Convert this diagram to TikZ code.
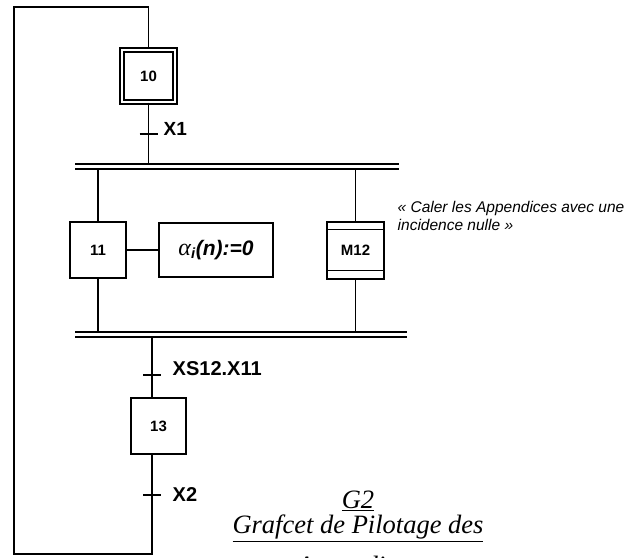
\documentclass[tikz,border=0pt]{standalone}
\usepackage{fontspec}
\setmainfont{Liberation Sans}
\newfontfamily\titlefont{Liberation Serif}
\usetikzlibrary{positioning,calc}

\begin{document}
\begin{tikzpicture}[x=1pt,y=-1pt,line width=1.4pt,
 etape/.style={draw,minimum width=56pt,minimum height=56pt,inner sep=0pt,font=\fontsize{15}{17}\selectfont\bfseries},
 action/.style={draw,minimum width=114pt,minimum height=54pt,inner sep=0pt},
 recep/.style={anchor=base west,inner sep=0pt,font=\fontsize{20}{22}\selectfont\bfseries}]
\useasboundingbox (0,0) rectangle (642,557);
\clip (0,0) rectangle (642,557);
% etapes
\node[etape,double,double distance=2.6pt,minimum width=53pt,minimum height=52pt] (s10) at (148.5,76) {10};
\node[etape] (s11) at (98,250) {11};
\node[action] (a11) at (216,250) {\fontsize{21}{23}\selectfont{\titlefont\itshape\fontsize{24}{26}\selectfont α}\textsubscript{\textbf{\textit{i}}}\textbf{\textit{(n):=0}}};
\node[etape,minimum width=57pt,minimum height=57pt] (m12) at (355.5,250.5) {M12};
\node[etape,minimum width=55pt] (s13) at (158.5,426) {13};
% transitions et barres
\coordinate (t1) at (148.5,134);
\coordinate (t2) at (152,375);
\coordinate (t3) at (152,495);
\coordinate (ret) at (152,554);
\coordinate (boucle) at (14,7);
\coordinate (b1w) at (75,164); \coordinate (b1e) at (399,164);
\coordinate (b1s) at (75,169);
\coordinate (b2w) at (75,332); \coordinate (b2e) at (407,332);
\coordinate (b2s) at (75,337);
\draw (b1w) -- (b1e); \draw (b1s) -- ([yshift=-5pt]b1e);
\draw (b2w) -- (b2e); \draw (b2s) -- ([yshift=-5pt]b2e);
\foreach \t in {t1,t2,t3}
  \draw ([xshift=-9pt]\t) -- ([xshift=9pt]\t);
\node[recep,font=\fontsize{19}{21}\selectfont\bfseries] (r1) at (163,135) {X1};
\node[recep] (r2) at (172,375) {XS12.X11};
\node[recep] (r3) at (172,501) {X2};
% liaisons
\draw (s10.south) -- (t1) -- (t1 |- b1w);
\draw (s11.north) -- (s11.north |- b1s);
\draw (s11.south) -- (s11.south |- b2w);
\draw (s11.east) -- (a11.west);
\draw (m12.north) -- (m12.north |- b1s);
\draw (m12.south) -- (m12.south |- b2w);
\draw ([yshift=-8pt]m12.north west) -- ([yshift=-8pt]m12.north east);
\draw ([yshift=9pt]m12.south west) -- ([yshift=9pt]m12.south east);
\draw (t2 |- b2s) -- (t2) -- (s13.north -| t2);
\draw (s13.south -| t2) -- (t3) -- (ret) -| (boucle) -| (s10.north);
% commentaire et titre
\node[anchor=base west,align=left,inner sep=0pt,font=\fontsize{15.5}{18}\selectfont\itshape] (com) at (397,230)
  {« Caler les Appendices avec une\\incidence nulle »};
\node[anchor=base,align=center,inner sep=0pt,font=\titlefont\itshape\fontsize{26.5}{25}\selectfont] (titre) at (358,574)
  {\underline{G2}\\\underline{Grafcet de Pilotage des}\\[13pt]\underline{Appendices}};
\end{tikzpicture}
\end{document}
